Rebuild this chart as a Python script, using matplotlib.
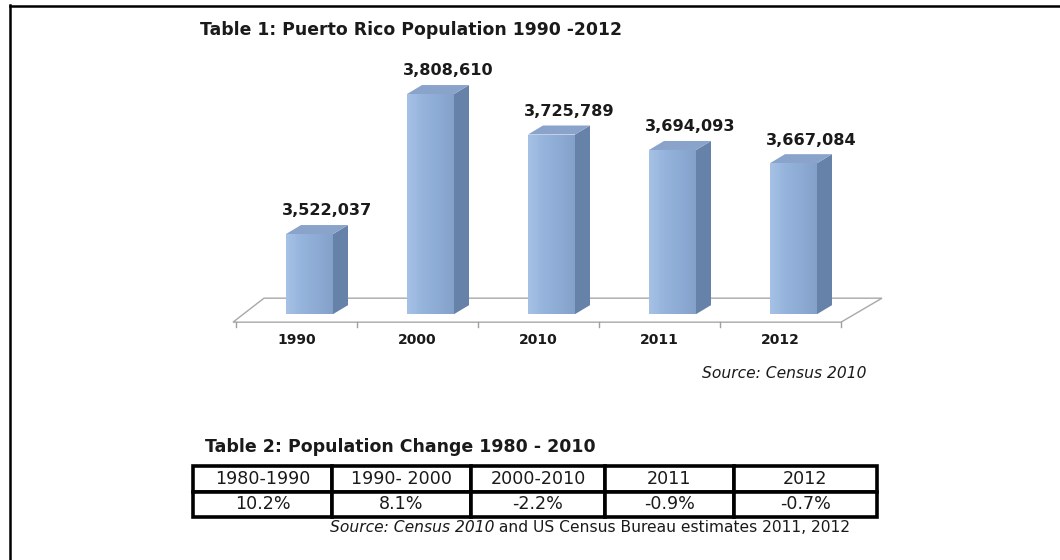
#!/usr/bin/env python3

"""
Puerto Rico population 1990-2012 as a pseudo-3D column chart,
with a small table of population change underneath.
"""

import numpy as np
import matplotlib.pyplot as plt
from matplotlib.patches import Polygon
from matplotlib.lines import Line2D
from matplotlib.colors import LinearSegmentedColormap

years = ["1990", "2000", "2010", "2011", "2012"]
population = [3522037, 3808610, 3725789, 3694093, 3667084]

change_periods = ["1980-1990", "1990- 2000", "2000-2010", "2011", "2012"]
change_pct = ["10.2%", "8.1%", "-2.2%", "-0.9%", "-0.7%"]

# value at which the columns start (axis floor)
base_value = 3358000

W, H = 1060, 560


def px_box(left, top, right, bottom):
    # figure rectangle given in pixel coords (origin top-left)
    return [left / W, 1 - bottom / H, (right - left) / W, (bottom - top) / H]


fig = plt.figure(figsize=(W / 100, H / 100), dpi=100)
fig.patch.set_facecolor("white")

# ----- chart axes -----
xlim = (-0.8, 5.0)
ylim = (3300000, 3900000)
ax_l, ax_t, ax_r, ax_b = 199.7, 49.4, 901.5, 342.5
ax = fig.add_axes(px_box(ax_l, ax_t, ax_r, ax_b))
ax.set_xlim(*xlim)
ax.set_ylim(*ylim)
ax.axis("off")

# pixel -> data unit factors
sx = (xlim[1] - xlim[0]) / (ax_r - ax_l)
sy = (ylim[1] - ylim[0]) / (ax_b - ax_t)

# floor parallelogram (front edge sits a bit below the column bottoms)
floor_front = base_value - 8 * sy
floor_dx, floor_dy = 38 * sx, 24 * sy
n = len(years)
floor = Polygon([(-0.5 - 3 * sx, floor_front), (n - 0.5, floor_front),
                 (n - 0.5 + floor_dx + 3 * sx, floor_front + floor_dy),
                 (-0.5 + floor_dx - 10 * sx, floor_front + floor_dy)],
                closed=True, facecolor="white", edgecolor="#a8a8a8",
                lw=1.0, zorder=1)
ax.add_patch(floor)

# small ticks under the floor front edge
for b in np.arange(-0.5, n, 1.0):
    ax.plot([b, b], [floor_front, floor_front - 5 * sy],
            color="#a0a0a0", lw=1.0, zorder=1)

# columns
bar_w = 47 * sx
shift = 13 * sx          # columns sit a third of the way into the floor
depth_x, depth_y = 15 * sx, 9 * sy

front_cmap = LinearSegmentedColormap.from_list(
    "front", ["#a6c1e5", "#95b4dc", "#8dabd4", "#84a1ca"])
grad = np.linspace(0, 1, 64).reshape(1, -1)

x_pos = np.arange(n) + shift
bars = ax.bar(x_pos, np.array(population) - base_value, bottom=base_value,
              width=bar_w, color="#94b3db", edgecolor="none", zorder=3)

for rect, xc, val in zip(bars, x_pos, population):
    x0, x1 = xc - bar_w / 2, xc + bar_w / 2
    im = ax.imshow(grad, cmap=front_cmap, aspect="auto",
                   extent=(x0, x1, base_value, val), zorder=3.1)
    im.set_clip_path(rect)
    side = Polygon([(x1, base_value), (x1 + depth_x, base_value + depth_y),
                    (x1 + depth_x, val + depth_y), (x1, val)],
                   closed=True, facecolor="#6782a8", edgecolor="none",
                   zorder=3)
    top = Polygon([(x0, val), (x1, val), (x1 + depth_x, val + depth_y),
                   (x0 + depth_x, val + depth_y)],
                  closed=True, facecolor="#8aa3ca", edgecolor="none",
                  zorder=3)
    ax.add_patch(side)
    ax.add_patch(top)
    ax.annotate(f"{val:,}", (xc, val), xytext=(12.5, 16.6),
                textcoords="offset points", ha="center", va="center",
                fontsize=11.6, fontweight="bold", color="#1a1a1a",
                annotation_clip=False)

for i, yr in enumerate(years):
    ax.annotate(yr, (i, floor_front), xytext=(0, -12.5),
                textcoords="offset points", ha="center", va="center",
                fontsize=10, fontweight="bold", color="#1a1a1a",
                annotation_clip=False)

# ----- titles and sources -----
fig.text(200 / W, 1 - 30 / H, "Table 1: Puerto Rico Population 1990 -2012",
         ha="left", va="center", fontsize=12.4, fontweight="bold",
         color="#1a1a1a")
fig.text(866 / W, 1 - 374 / H, "Source: Census 2010", ha="right",
         va="center", fontsize=11.2, style="italic", color="#1a1a1a")

fig.text(205 / W, 1 - 447 / H, "Table 2: Population Change 1980 - 2010",
         ha="left", va="center", fontsize=12.55, fontweight="bold",
         color="#1a1a1a")

# ----- table -----
ax2 = fig.add_axes(px_box(193, 466, 877, 517))
ax2.axis("off")
col_px = np.array([139, 139, 134, 129, 143], dtype=float)
tbl = ax2.table(cellText=[change_periods, change_pct],
                colWidths=list(col_px / col_px.sum()),
                cellLoc="center", bbox=[0, 0, 1, 1])
tbl.auto_set_font_size(False)
tbl.set_fontsize(12.6)
for cell in tbl.get_celld().values():
    cell.set_linewidth(2.6)
    cell.set_edgecolor("black")
    cell.get_text().set_color("#1a1a1a")

# source line: italic part followed by regular part
src_a = fig.text(330 / W, 1 - 531.5 / H, "Source: Census 2010", ha="left",
                 va="baseline", fontsize=11.2, style="italic",
                 color="#1a1a1a")
fig.add_artist(plt.Annotation(" and US Census Bureau estimates 2011, 2012",
                              xy=(1, 0), xycoords=src_a, ha="left",
                              va="bottom", fontsize=11.2, color="#1a1a1a"))

# page border (top and left only)
fig.add_artist(Line2D([9.5 / W, 1], [1 - 5.5 / H] * 2, color="black",
                      lw=1.8, transform=fig.transFigure))
fig.add_artist(Line2D([9.5 / W] * 2, [1 - 5 / H, 0], color="black",
                      lw=1.8, transform=fig.transFigure))

fig.savefig("out.png", dpi=100)
